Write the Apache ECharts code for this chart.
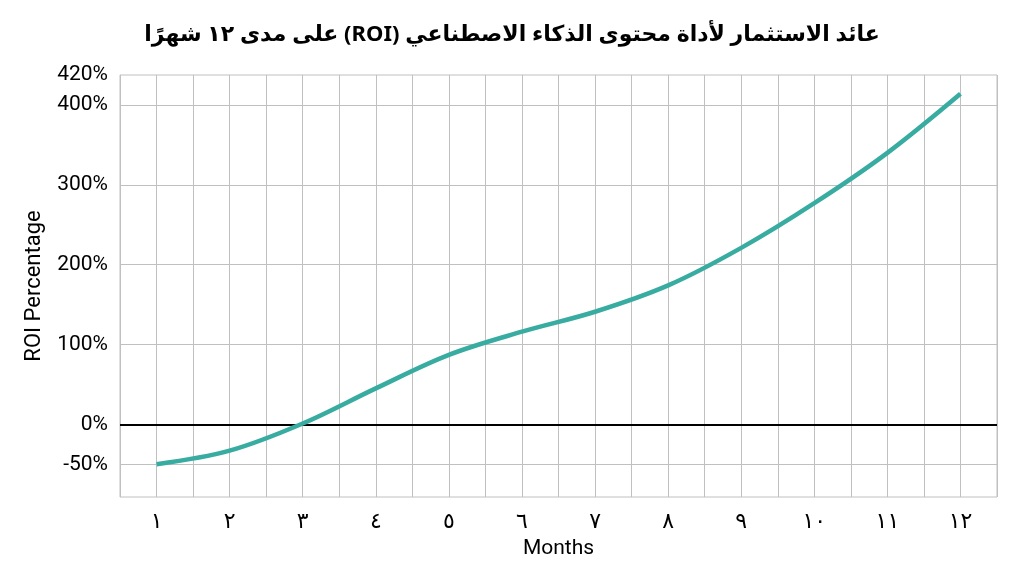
<!DOCTYPE html>
<html>
<head>
<meta charset="utf-8">
<script src="https://cdn.jsdelivr.net/npm/echarts@6/dist/echarts.min.js"></script>
<style>
html,body{margin:0;padding:0;background:#fff;}
#chart{width:1024px;height:572px;}
</style>
</head>
<body>
<div id="chart"></div>
<script>
const titleText = 'عائد الاستثمار لأداة محتوى الذكاء الاصطناعي (ROI) على مدى ١٢ شهرًا';
const months = [1,2,3,4,5,6,7,8,9,10,11,12];
const monthLabels = ['١','٢','٣','٤','٥','٦','٧','٨','٩','١٠','١١','١٢'];
const roi = [-50, -33, 1, 45, 87, 116, 141, 174, 221, 277, 340, 414];
const yTickValues = [-50, 0, 100, 200, 300, 400];
const yTopLabel = '420%';
const yMin = -91, yMax = 437.5;
const gridLineValues = [-50, 100, 200, 300, 400];

const chart = echarts.init(document.getElementById('chart'));
const font = 'Roboto, "Noto Sans", "DejaVu Sans", sans-serif';
chart.setOption({
  animation: false,
  backgroundColor: '#fff',
  title: {
    text: '\u202B' + titleText + '\u202C', left: 'center', top: 19,
    textStyle: {fontSize: 22, fontWeight: 'bold', color: '#000', fontFamily: '"Noto Sans", "DejaVu Sans", sans-serif'}
  },
  grid: {left: 120, right: 27, top: 75, bottom: 75, show: true, borderColor: '#c0c0c0', borderWidth: 1},
  xAxis: {
    type: 'value', min: 0.5, max: 12.5, interval: 0.5,
    name: 'Months', nameLocation: 'middle', nameGap: 40,
    nameTextStyle: {fontSize: 21, color: '#000', fontFamily: font},
    axisLine: {show: false}, axisTick: {show: false},
    splitLine: {show: true, lineStyle: {color: '#c0c0c0', width: 1}},
    axisLabel: {
      margin: 14, fontSize: 22, color: '#000', fontFamily: '"DejaVu Sans", sans-serif',
      formatter: v => Number.isInteger(v) && v >= 1 && v <= 12 ? monthLabels[months.indexOf(v)] : ''
    }
  },
  yAxis: {
    type: 'value', min: yMin, max: yMax,
    name: 'ROI Percentage', nameLocation: 'middle', nameGap: 75, nameRotate: 90,
    nameTextStyle: {fontSize: 22, color: '#000', fontFamily: font},
    axisLine: {show: false}, axisTick: {show: false}, splitLine: {show: false},
    axisLabel: {
      customValues: yTickValues.concat([yMax]),
      margin: 12, fontSize: 21, color: '#000', fontFamily: font,
      formatter: v => v === yMax ? yTopLabel : v + '%'
    }
  },
  series: [{
    type: 'line', smooth: 0.35, symbol: 'none',
    data: months.map((m, i) => [m, roi[i]]),
    lineStyle: {color: '#38aca1', width: 4.5},
    z: 5,
    markLine: {
      silent: true, symbol: 'none', label: {show: false},
      data: gridLineValues.map(v => ({yAxis: v, lineStyle: {color: '#c0c0c0', width: 1, type: 'solid'}}))
        .concat([{yAxis: 0, lineStyle: {color: '#000', width: 2, type: 'solid'}}])
    }
  }]
});
</script>
</body>
</html>
